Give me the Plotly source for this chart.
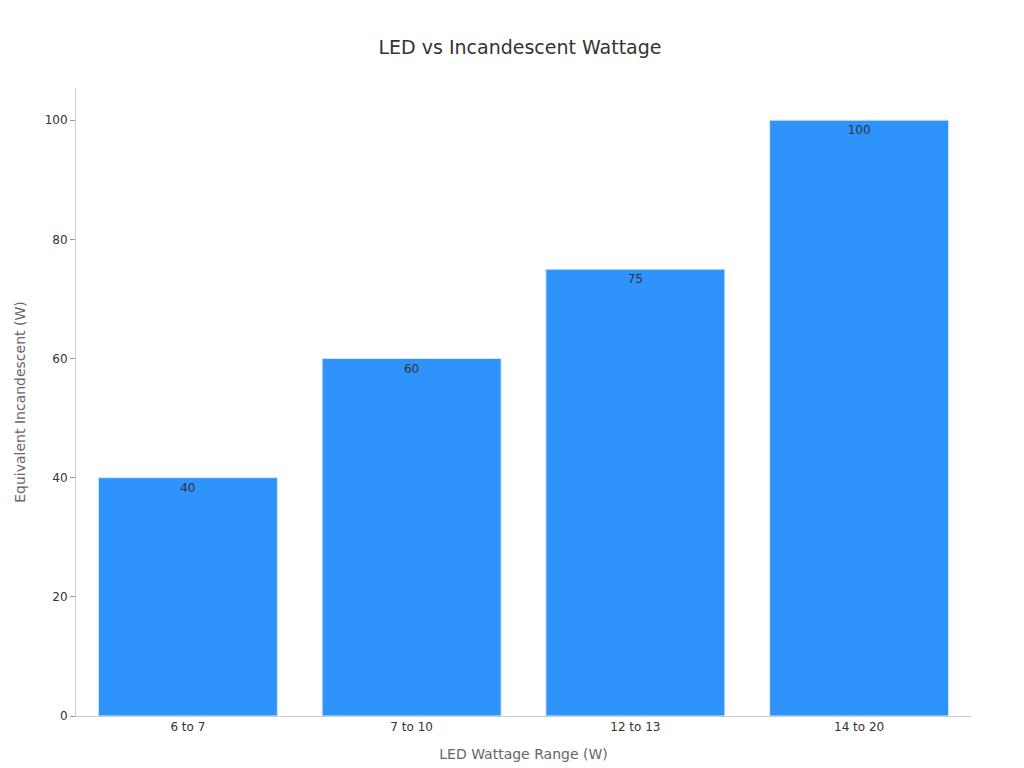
import plotly.graph_objects as go

categories = ["6 to 7", "7 to 10", "12 to 13", "14 to 20"]
values = [40, 60, 75, 100]

fig = go.Figure(go.Bar(
    x=categories, y=values, text=[str(v) for v in values],
    textposition="inside", insidetextanchor="end",
    textfont=dict(color="#333333", size=12),
    marker=dict(color="#2E93FA", line=dict(color="#d8e8f8", width=1)),
))
fig.update_layout(
    width=1024, height=768,
    font=dict(family="DejaVu Sans", color="#333333"),
    title=dict(text="LED vs Incandescent Wattage", x=0.5, y=0.957, xanchor="center",
               font=dict(size=19, color="#333333")),
    plot_bgcolor="white", paper_bgcolor="white",
    margin=dict(l=68, r=61, t=80, b=60),
    bargap=0.2, showlegend=False,
    xaxis=dict(title=dict(text="LED Wattage Range (W)", font=dict(size=14, color="#666666")),
               showline=True, linecolor="#cccccc", ticks="", tickfont=dict(size=12)),
    yaxis=dict(title=dict(text="Equivalent Incandescent (W)", font=dict(size=14, color="#666666")),
               range=[0, 105.4], dtick=20, showgrid=False, zeroline=False,
               showline=True, linecolor="#cccccc", ticks="outside", ticklen=5,
               tickcolor="#999999", tickfont=dict(size=12)),
)
fig.write_html("out.html")
